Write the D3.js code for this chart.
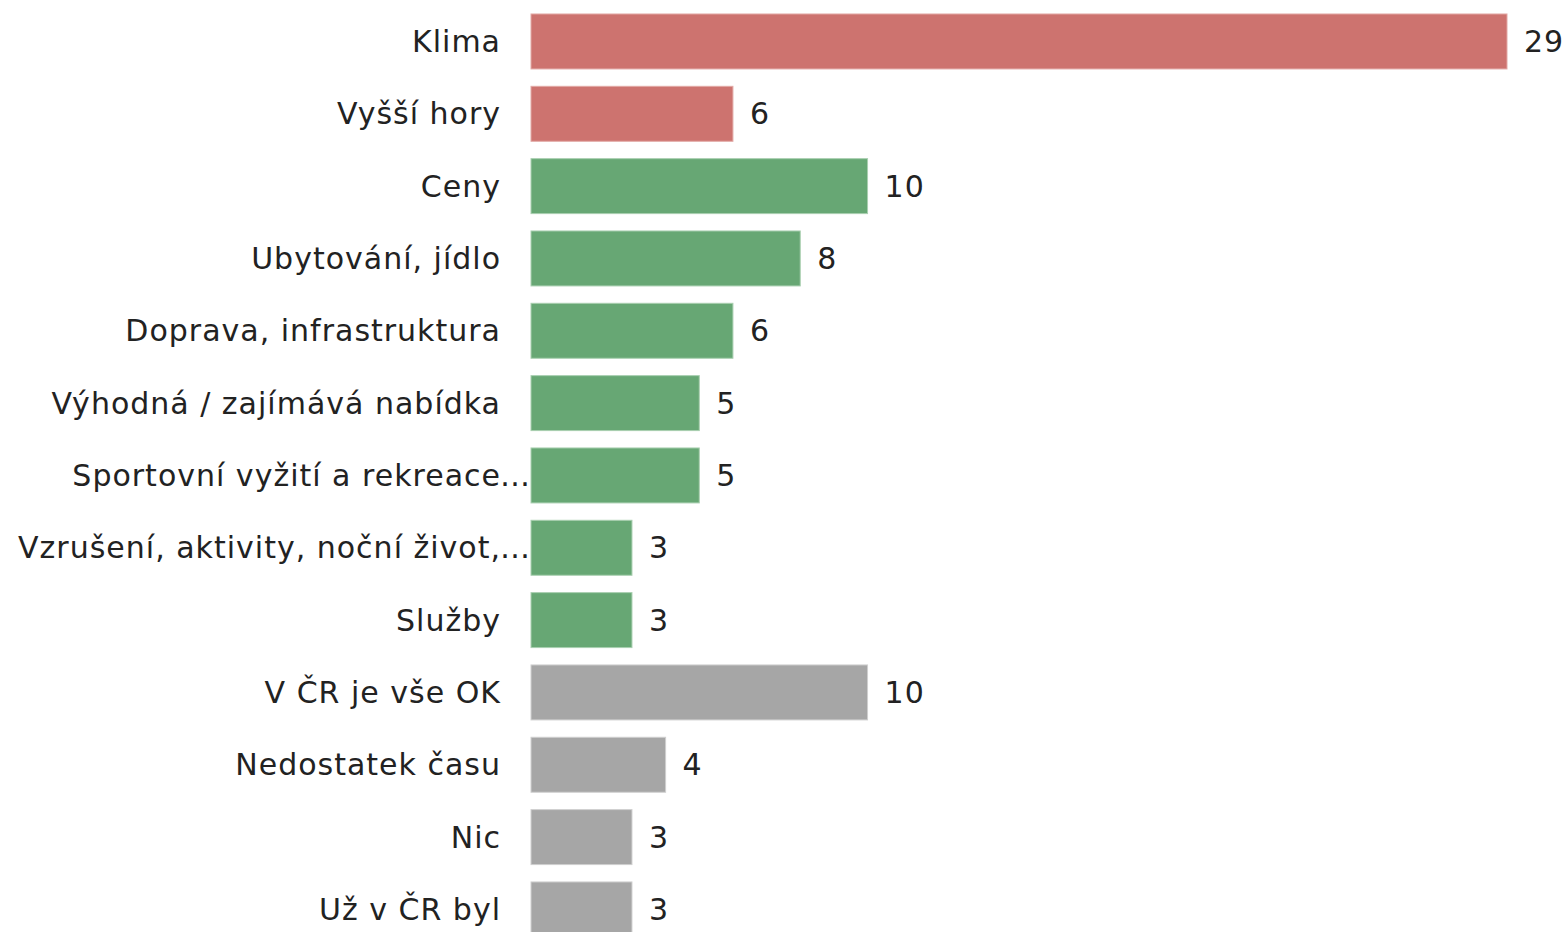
<!DOCTYPE html>
<html>
<head>
<meta charset="utf-8">
<script src="https://cdn.jsdelivr.net/npm/d3@7"></script>
<style>
  html, body { margin: 0; padding: 0; background: #fff; overflow: hidden; }
  text { font-family: "DejaVu Sans", Verdana, sans-serif; fill: #222; letter-spacing: 1px; }
</style>
</head>
<body>
<svg id="chart" width="1566" height="932"></svg>
<script>
// Categories (top to bottom), their counts and colour groups
const categories = [
  "Klima",
  "Vyšší hory",
  "Ceny",
  "Ubytování, jídlo",
  "Doprava, infrastruktura",
  "Výhodná / zajímává nabídka",
  "Sportovní vyžití a rekreace",
  "Vzrušení, aktivity, noční život,",
  "Služby",
  "V ČR je vše OK",
  "Nedostatek času",
  "Nic",
  "Už v ČR byl"
];
const values = [29, 6, 10, 8, 6, 5, 5, 3, 3, 10, 4, 3, 3];
const groups = ["a", "a", "b", "b", "b", "b", "b", "b", "b", "c", "c", "c", "c"];
// Labels that were shortened get a trailing ellipsis
const truncated = [false, false, false, false, false, false, true, true, false, false, false, false, false];

const groupColors = { a: "#cd736f", b: "#67a774", c: "#a6a6a6" };
const groupStroke = { a: "#e2a9a6", b: "#a9cfb0", c: "#cfcfcf" };

const rows = categories.map((c, i) => ({
  name: c, value: values[i], group: groups[i], cut: truncated[i]
}));

const svg = d3.select("#chart");

const x = d3.scaleLinear().domain([0, 29]).range([531, 1507]);
const y = d3.scaleBand()
  .domain(categories)
  .range([5.3, 5.3 + 13 * 72.33])
  .paddingInner(0.24)
  .paddingOuter(0.12);

const row = svg.selectAll("g.row")
  .data(rows)
  .join("g")
  .attr("class", "row");

row.append("rect")
  .attr("x", x(0))
  .attr("y", d => y(d.name))
  .attr("width", d => x(d.value) - x(0))
  .attr("height", y.bandwidth())
  .attr("fill", d => groupColors[d.group])
  .attr("stroke", d => groupStroke[d.group])
  .attr("stroke-width", 1);

// Category labels, right-aligned next to the bars
row.append("text")
  .attr("x", 501)
  .attr("y", d => y(d.name) + y.bandwidth() / 2)
  .attr("dy", "0.35em")
  .attr("text-anchor", "end")
  .style("font-size", "30px")
  .text(d => d.name);

row.filter(d => d.cut).append("text")
  .attr("x", 500)
  .attr("y", d => y(d.name) + y.bandwidth() / 2)
  .attr("dy", "0.35em")
  .attr("text-anchor", "start")
  .style("font-size", "30px")
  .text("…");

// Value labels at the end of each bar
row.append("text")
  .attr("x", d => x(d.value) + 17)
  .attr("y", d => y(d.name) + y.bandwidth() / 2)
  .attr("dy", "0.35em")
  .attr("text-anchor", "start")
  .style("font-size", "30px")
  .text(d => d3.format("d")(d.value));
</script>
</body>
</html>
